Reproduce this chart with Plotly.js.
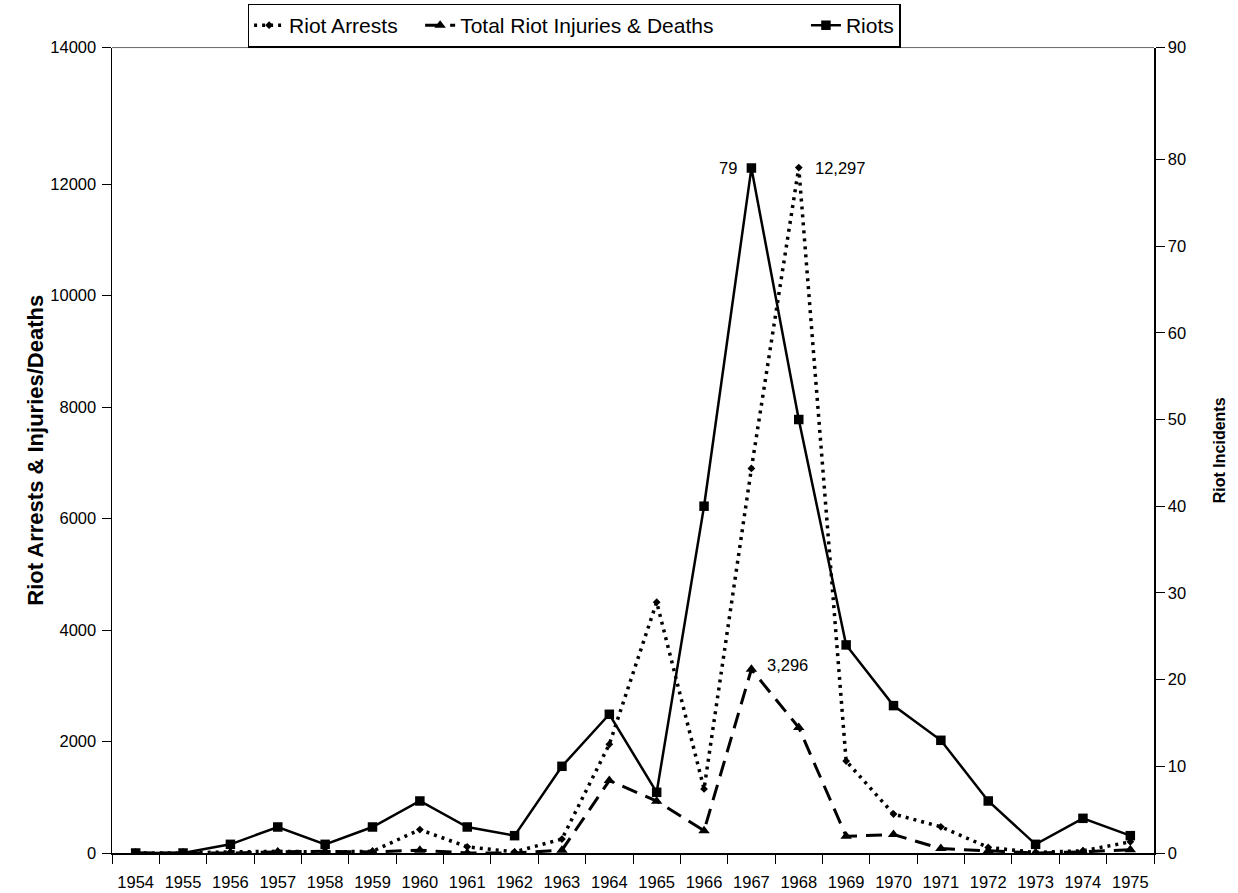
<!DOCTYPE html>
<html>
<head>
<meta charset="utf-8">
<script src="https://cdn.plot.ly/plotly-3.0.1.min.js"></script>
<style>html,body{margin:0;padding:0;background:#fff;}#chart{width:1238px;height:893px;}</style>
</head>
<body>
<div id="chart"></div>
<script>
const years = ["1954","1955","1956","1957","1958","1959","1960","1961","1962","1963","1964","1965","1966","1967","1968","1969","1970","1971","1972","1973","1974","1975"];
const riotArrests = [0,0,20,30,20,30,420,110,20,250,1950,4500,1150,6900,12297,1650,700,470,100,10,40,200];
const injuriesDeaths = [0,0,0,20,30,20,50,0,0,50,1300,930,400,3296,2250,300,330,80,40,0,20,60];
const riots = [0,0,1,3,1,3,6,3,2,10,16,7,40,79,50,24,17,13,6,1,4,2];
const seriesNames = ["Riot Arrests", "Total Riot Injuries & Deaths", "Riots"];
const leftTickLabels = ["0","2000","4000","6000","8000","10000","12000","14000"];
const rightTickLabels = ["0","10","20","30","40","50","60","70","80","90"];

// The reference's top frame sits a little above the last regular tick step,
// with the top label printed at the frame edge.
const leftMax = 14450, rightMax = 92.9;
const leftTickVals = leftTickLabels.map((t, i) => i === leftTickLabels.length - 1 ? leftMax : Number(t));
const rightTickVals = rightTickLabels.map((t, i) => i === rightTickLabels.length - 1 ? rightMax : Number(t));

const tickFont = {family:"Liberation Sans, Arial, sans-serif", size:16.5, color:"#000"};
const narrow = "Liberation Sans Narrow, Liberation Sans, sans-serif";
const iRiotPeak = riots.indexOf(Math.max(...riots));
const iArrPeak = riotArrests.indexOf(Math.max(...riotArrests));
const iInjPeak = injuriesDeaths.indexOf(Math.max(...injuriesDeaths));
const nb = n => "\u00a0".repeat(n);

const traces = [
  {x:years, y:riotArrests, name:seriesNames[0] + nb(3), type:"scatter", mode:"lines+markers",
   line:{color:"#000", width:3.5, dash:"3px,5px"}, marker:{symbol:"diamond", size:6, color:"#000"}, yaxis:"y"},
  {x:years, y:injuriesDeaths, name:seriesNames[1] + nb(15), type:"scatter", mode:"lines+markers",
   line:{color:"#000", width:3, dash:"16px,9px"}, marker:{symbol:"triangle-up", size:10, color:"#000"}, yaxis:"y"},
  {x:years, y:riots, name:seriesNames[2], type:"scatter", mode:"lines+markers",
   line:{color:"#000", width:2.5}, marker:{symbol:"square", size:9.5, color:"#000"}, yaxis:"y2"}
];

const layout = {
  width:1238, height:893,
  margin:{l:112, r:84, t:45, b:40},
  paper_bgcolor:"#fff", plot_bgcolor:"#fff",
  showlegend:true,
  legend:{orientation:"h", xref:"container", yref:"container", x:0.2, xanchor:"left", y:0.996, yanchor:"top",
    font:{family:narrow, size:21, color:"#000"},
    bordercolor:"#000", borderwidth:1.5, bgcolor:"#fff", itemwidth:30, tracegroupgap:0},
  xaxis:{type:"category", range:[-0.5, years.length-0.5], showgrid:false, zeroline:false, showline:true, linecolor:"#000", linewidth:1.5,
    ticks:"outside", ticklen:9, tickcolor:"#000", tickson:"boundaries", tickfont:tickFont, tickangle:0, ticklabelstandoff:14, fixedrange:true},
  yaxis:{range:[0,leftMax], tickmode:"array", tickvals:leftTickVals, ticktext:leftTickLabels, showgrid:false, zeroline:false, showline:true, linecolor:"#000", linewidth:1.5,
    ticks:"outside", ticklen:9, tickcolor:"#000", tickfont:tickFont, ticklabelstandoff:2,
    title:{text:"Riot Arrests & Injuries/Deaths", font:{family:narrow, size:22, color:"#000", weight:"bold"}, standoff:0}},
  yaxis2:{range:[0,rightMax], tickmode:"array", tickvals:rightTickVals, ticktext:rightTickLabels, overlaying:"y", side:"right", showgrid:false, zeroline:false, showline:true,
    linecolor:"#000", linewidth:1.5, ticks:"outside", ticklen:9, tickcolor:"#000", tickfont:tickFont,
    title:{text:"Riot Incidents", font:{family:narrow, size:16, color:"#000", weight:"bold"}, standoff:28}},
  shapes:[{type:"line", xref:"paper", yref:"paper", x0:0, x1:1, y0:1, y1:1, line:{color:"#666", width:1}}],
  annotations:[
    {x:iRiotPeak, y:riots[iRiotPeak], yref:"y2", xref:"x", text:"79", showarrow:false, xanchor:"right", xshift:-12, font:tickFont},
    {x:iArrPeak, y:riotArrests[iArrPeak], yref:"y", xref:"x", text:"12,297", showarrow:false, xanchor:"left", xshift:14, font:tickFont},
    {x:iInjPeak, y:injuriesDeaths[iInjPeak], yref:"y", xref:"x", text:"3,296", showarrow:false, xanchor:"left", xshift:14, yshift:4, font:tickFont}
  ]
};

Plotly.newPlot("chart", traces, layout, {displayModeBar:false, staticPlot:true});
</script>
</body>
</html>
